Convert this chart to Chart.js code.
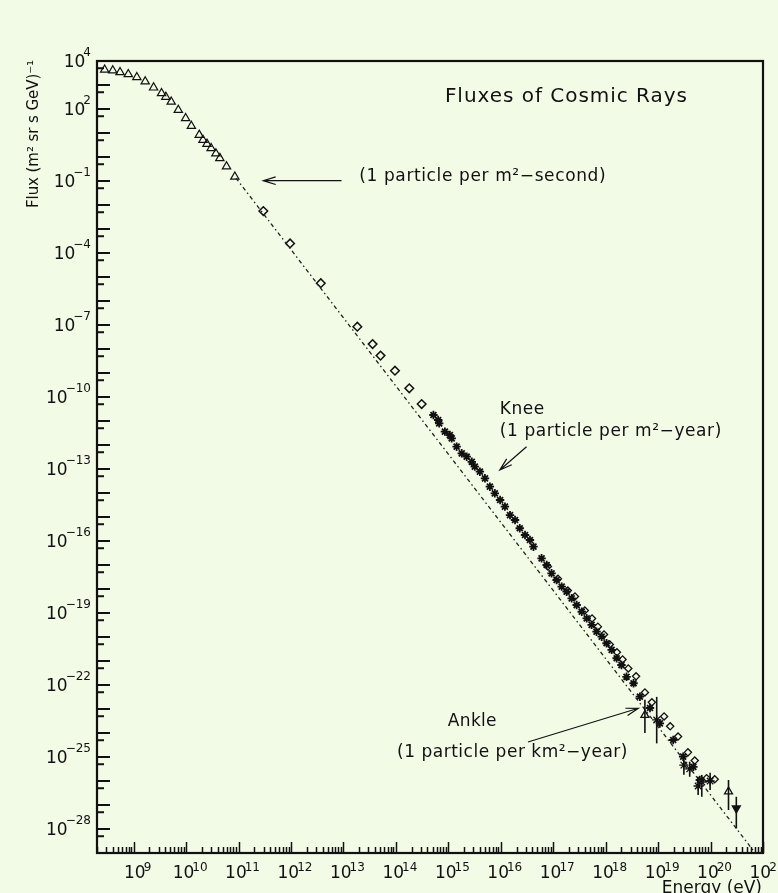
<!DOCTYPE html>
<html>
<head>
<meta charset="utf-8">
<script src="https://cdn.jsdelivr.net/npm/chart.js@4.4.0/dist/chart.umd.min.js"></script>
<style>
  html, body { margin: 0; padding: 0; background: #f2fbe6; }
  canvas { display: block; }
</style>
</head>
<body>
<canvas id="fluxChart" width="778" height="893"></canvas>
<script>
// energy in eV, flux in (m^2 sr s GeV)^-1

// low energy (open triangles)
let triE = [2.8e8, 4.0e8, 5.5e8, 7.9e8, 1.15e9, 1.66e9, 2.4e9, 3.4e9, 4.1e9, 5.2e9, 7.1e9,
            9.8e9, 1.26e10, 1.78e10, 2.1e10, 2.5e10, 3.0e10, 3.7e10, 4.4e10, 5.9e10, 8.5e10];
let triF = [4.3e3, 4.0e3, 3.4e3, 2.8e3, 2.1e3, 1.4e3, 780, 450, 320, 200, 91,
            41, 19.5, 8.3, 5.1, 3.5, 2.3, 1.4, 0.89, 0.40, 0.15];

// direct measurements (open diamonds)
let diaE = [2.97e11, 9.6e11, 3.7e12, 1.84e13, 3.6e13, 5.1e13, 9.6e13, 1.8e14, 3.1e14];
let diaF = [5.6e-3, 2.5e-4, 5.5e-6, 8.5e-8, 1.6e-8, 5.3e-9, 1.25e-9, 2.3e-10, 5.1e-11];

// air shower data (stars)
let starE = [5.2e14, 6.4e14, 6.7e14, 8.6e14, 1.07e15, 1.16e15, 1.44e15, 1.8e15, 2.24e15, 2.8e15,
             3.2e15, 4.0e15, 5.0e15, 6.2e15, 7.7e15, 9.7e15, 1.2e16, 1.5e16, 1.87e16, 2.3e16,
             2.9e16, 3.6e16, 4.2e16, 6.0e16, 7.5e16, 9.3e16, 1.16e17, 1.45e17, 1.8e17, 2.25e17,
             2.8e17, 3.5e17, 4.35e17, 5.4e17, 6.7e17, 8.4e17, 1.04e18, 1.3e18, 1.62e18, 2.0e18,
             2.5e18, 3.4e18, 4.5e18, 7.0e18, 1.08e19, 1.94e19, 3.0e19, 4.7e19, 6.25e19];
let starF = [1.78e-11, 1.1e-11, 8.0e-12, 3.6e-12, 2.6e-12, 1.9e-12, 8.5e-13, 4.5e-13, 3.25e-13, 2.0e-13,
             1.25e-13, 7.7e-14, 4.1e-14, 1.83e-14, 9.7e-15, 5.1e-15, 2.7e-15, 1.2e-15, 7.5e-16, 3.4e-16,
             1.78e-16, 1.1e-16, 5.8e-17, 1.9e-17, 1.0e-17, 4.5e-18, 2.37e-18, 1.25e-18, 7.7e-19, 4.1e-19,
             2.15e-19, 1.13e-19, 6.0e-20, 3.2e-20, 1.66e-20, 1.03e-20, 5.5e-21, 2.9e-21, 1.3e-21, 6.8e-22,
             2.2e-22, 1.18e-22, 3.25e-23, 1.1e-23, 2.5e-24, 5.1e-25, 1.03e-25, 3.9e-26, 1.1e-26];

// other experiments around the ankle (open markers)
let openE = [7.9e16, 1.23e17, 1.9e17, 2.6e17, 4.0e17, 5.5e17, 7.1e17, 9.3e17, 1.2e18, 1.64e18, 2.1e18,
             2.7e18, 3.8e18, 5.6e18, 7.6e18, 1.3e19, 1.7e19, 2.4e19, 3.7e19, 5.0e19, 8.4e19, 1.2e20];
let openF = [8.6e-18, 2.7e-18, 8.6e-19, 4.9e-19, 1.27e-19, 5.9e-20, 2.7e-20, 1.27e-20, 4.9e-21, 2.3e-21, 1.16e-21,
             4.9e-22, 2.3e-22, 4.9e-23, 1.9e-23, 4.9e-24, 1.9e-24, 7.1e-25, 1.56e-25, 7.1e-26, 1.3e-26, 1.18e-26];

// points with error bars
let errE  = [5.6e18, 9.4e18, 3.1e19, 4.0e19, 5.8e19, 6.8e19, 9.8e19, 2.2e20, 3.1e20];
let errF  = [5.6e-24, 3.5e-24, 4.6e-26, 3.2e-26, 6.2e-27, 9.1e-27, 1.0e-26, 3.6e-27, 7.3e-28];
let errHi = [2.4e-23, 3.2e-23, 1.0e-25, 6.4e-26, 1.5e-26, 1.8e-26, 2.2e-26, 1.1e-26, 2.2e-27];
let errLo = [1.0e-24, 3.7e-25, 1.8e-26, 1.5e-26, 2.6e-27, 2.2e-27, 4.2e-27, 6.2e-28, 1.07e-28];
let errStyle = ["triangle", "star", "star", "star", "star", "star", "star", "triangle", "triangle"];
let errRot = [0, 0, 0, 0, 0, 0, 0, 0, 180];
let errFill = ["rgba(0,0,0,0)", "#111", "#111", "#111", "#111", "#111", "#111", "rgba(0,0,0,0)", "#111"];

// reference power law (dash-dot line)
let lawE = [8.9e10, 7.1e20];
let lawF = [0.133, 1e-29];

// axis ticks (powers of ten)
let xTickExp = [9, 10, 11, 12, 13, 14, 15, 16, 17, 18, 19, 20, 21];
let yTickExp = [4, 2, -1, -4, -7, -10, -13, -16, -19, -22, -25, -28];

// annotations, anchored in data units
let notes = [
  { lines: ["(1 particle per m\u00b2\u2212second)"], x: 2.0e13, y: [0.147], w: [247],
    arrow: { from: [9.2e12, 0.103], to: [2.96e11, 0.103] } },
  { lines: ["Knee", "(1 particle per m\u00b2\u2212year)"], x: 9.6e15, y: [2.9e-11, 3.8e-12], w: [45, 222],
    arrow: { from: [3.1e16, 8.5e-13], to: [9.6e15, 9.1e-14] } },
  { lines: ["Ankle"], x: 9.8e14, y: [2.9e-24], w: [49], arrow: null },
  { lines: ["(1 particle per km\u00b2\u2212year)"], x: 1.05e14, y: [1.5e-25], w: [231],
    arrow: { from: [3.3e16, 4.2e-25], to: [4.2e18, 1.07e-23] } }
];

const INK = "#111";
const BG = "#f2fbe6";
const FONT = "'DejaVu Sans', sans-serif";

function pts(xs, ys) {
  return xs.map((x, i) => ({ x: x, y: ys[i] }));
}

function fitText(ctx, text, x, y, width) {
  ctx.letterSpacing = "0px";
  let w = ctx.measureText(text).width;
  let n = [...text].length;
  ctx.letterSpacing = ((width - w) / n) + "px";
  ctx.fillText(text, x, y);
  ctx.letterSpacing = "0px";
}

function power(ctx, exp, x, y, align, raise) {
  let base = "10";
  let e = String(exp).replace("-", "\u2212");
  ctx.font = "17px " + FONT;
  let wb = ctx.measureText(base).width;
  ctx.font = "12px " + FONT;
  let we = ctx.measureText(e).width;
  let overlap = 2;
  let total = wb + we - overlap;
  let left = align === "right" ? x - total : x - total / 2;
  ctx.textAlign = "left";
  ctx.textBaseline = "alphabetic";
  ctx.font = "17px " + FONT;
  ctx.fillText(base, left, y);
  ctx.font = "12px " + FONT;
  ctx.fillText(e, left + wb - overlap, y - raise);
}

function arrow(ctx, x1, y1, x2, y2) {
  let a = Math.atan2(y2 - y1, x2 - x1);
  ctx.beginPath();
  ctx.moveTo(x1, y1);
  ctx.lineTo(x2, y2);
  ctx.moveTo(x2 - 13 * Math.cos(a - 0.3), y2 - 13 * Math.sin(a - 0.3));
  ctx.lineTo(x2, y2);
  ctx.lineTo(x2 - 13 * Math.cos(a + 0.3), y2 - 13 * Math.sin(a + 0.3));
  ctx.stroke();
}

const background = {
  id: "background",
  beforeDraw(chart) {
    let ctx = chart.ctx;
    ctx.save();
    ctx.fillStyle = BG;
    ctx.fillRect(0, 0, chart.width, chart.height);
    ctx.restore();
  }
};

const errorBars = {
  id: "errorBars",
  afterDatasetsDraw(chart) {
    let ctx = chart.ctx, xs = chart.scales.x, ys = chart.scales.y;
    ctx.save();
    ctx.strokeStyle = INK;
    ctx.lineWidth = 1.6;
    errE.forEach((e, i) => {
      let px = xs.getPixelForValue(e);
      ctx.beginPath();
      ctx.moveTo(px, ys.getPixelForValue(errHi[i]));
      ctx.lineTo(px, ys.getPixelForValue(errLo[i]));
      ctx.stroke();
    });
    ctx.restore();
  }
};

const frame = {
  id: "frame",
  afterDraw(chart) {
    let ctx = chart.ctx, xs = chart.scales.x, ys = chart.scales.y, a = chart.chartArea;
    ctx.save();
    ctx.strokeStyle = INK;
    ctx.fillStyle = INK;

    // x ticks (inside, log minor ticks)
    ctx.lineWidth = 1.5;
    for (let d = 8; d <= 21; d++) {
      for (let m = 1; m <= 9; m++) {
        let v = m * Math.pow(10, d);
        if (v < xs.min || v > xs.max) continue;
        let px = Math.round(xs.getPixelForValue(v)) + 0.5;
        let len = m === 1 ? 11 : 6;
        ctx.beginPath();
        ctx.moveTo(px, a.bottom);
        ctx.lineTo(px, a.bottom - len);
        ctx.stroke();
      }
    }

    // y ticks
    ctx.lineWidth = 2;
    for (let d = -29; d <= 4; d++) {
      let py = ys.getPixelForValue(Math.pow(10, d));
      ctx.beginPath();
      ctx.moveTo(a.left, py);
      ctx.lineTo(a.left + 13, py);
      ctx.stroke();
      let pm = ys.getPixelForValue(5 * Math.pow(10, d - 1));
      if (pm < a.bottom - 1) {
        ctx.beginPath();
        ctx.moveTo(a.left, pm);
        ctx.lineTo(a.left + 7, pm);
        ctx.stroke();
      }
    }

    // frame
    ctx.lineWidth = 2.2;
    ctx.strokeRect(a.left, a.top, a.right - a.left, a.bottom - a.top);

    // tick labels
    xTickExp.forEach(d => {
      power(ctx, d, xs.getPixelForValue(Math.pow(10, d)) + 4, a.bottom + 25, "center", 7);
    });
    yTickExp.forEach(d => {
      power(ctx, d, a.left - 6, ys.getPixelForValue(Math.pow(10, d)) + 6, "right", 11);
    });

    // axis titles
    ctx.font = "17px " + FONT;
    ctx.textAlign = "right";
    ctx.textBaseline = "top";
    ctx.fillText("Energy (eV)", a.right - 1, a.bottom + 27);

    ctx.save();
    ctx.translate(34, 208);
    ctx.rotate(-Math.PI / 2);
    ctx.font = "15px " + FONT;
    ctx.textAlign = "left";
    ctx.textBaseline = "middle";
    fitText(ctx, "Flux (m\u00b2 sr s GeV)\u207b\u00b9", 0, 0, 148);
    ctx.restore();

    // title
    ctx.font = "20px " + FONT;
    ctx.textAlign = "left";
    ctx.textBaseline = "middle";
    fitText(ctx, "Fluxes of Cosmic Rays", xs.getPixelForValue(8.6e14), ys.getPixelForValue(316), 243);

    // annotations
    ctx.font = "17px " + FONT;
    ctx.lineWidth = 1.2;
    notes.forEach(n => {
      let x = xs.getPixelForValue(n.x);
      n.lines.forEach((t, i) => fitText(ctx, t, x, ys.getPixelForValue(n.y[i]), n.w[i]));
      if (n.arrow) {
        arrow(ctx,
          xs.getPixelForValue(n.arrow.from[0]), ys.getPixelForValue(n.arrow.from[1]),
          xs.getPixelForValue(n.arrow.to[0]), ys.getPixelForValue(n.arrow.to[1]));
      }
    });
    ctx.restore();
  }
};

let ctx = document.getElementById("fluxChart").getContext("2d");

let fluxChart = new Chart(ctx, {
  type: "scatter",
  data: {
    datasets: [
      { label: "power law", data: pts(lawE, lawF), showLine: true, pointRadius: 0,
        borderColor: "#222", borderWidth: 1.3, borderDash: [4, 3, 1.5, 3] },
      { label: "low energy", data: pts(triE, triF), pointStyle: "triangle", pointRadius: 4.8,
        borderColor: INK, backgroundColor: "rgba(0,0,0,0)", borderWidth: 1.2 },
      { label: "direct", data: pts(diaE, diaF), pointStyle: "rectRot", pointRadius: 4.3,
        borderColor: INK, backgroundColor: "rgba(0,0,0,0)", borderWidth: 1.5 },
      { label: "air showers", data: pts(starE, starF), pointStyle: "star", pointRadius: 4.2,
        borderColor: INK, backgroundColor: INK, borderWidth: 1.8 },
      { label: "other", data: pts(openE, openF), pointStyle: "rectRot", pointRadius: 3.6,
        borderColor: INK, backgroundColor: "rgba(0,0,0,0)", borderWidth: 1.3 },
      { label: "error points", data: pts(errE, errF), pointStyle: errStyle, pointRotation: errRot,
        pointRadius: 4.6, borderColor: INK, backgroundColor: errFill, borderWidth: 1.3 }
    ]
  },
  options: {
    responsive: false,
    animation: false,
    layout: { padding: { top: 61, right: 15, left: 0, bottom: 0 } },
    plugins: { legend: { display: false }, tooltip: { enabled: false } },
    scales: {
      x: { type: "logarithmic", min: 2e8, max: 1e21,
           ticks: { display: false }, grid: { display: false }, border: { display: false },
           afterFit: s => { s.height = 40; } },
      y: { type: "logarithmic", min: 1e-29, max: 1e4,
           ticks: { display: false }, grid: { display: false }, border: { display: false },
           afterFit: s => { s.width = 97; } }
    }
  },
  plugins: [background, errorBars, frame]
});
</script>
</body>
</html>
